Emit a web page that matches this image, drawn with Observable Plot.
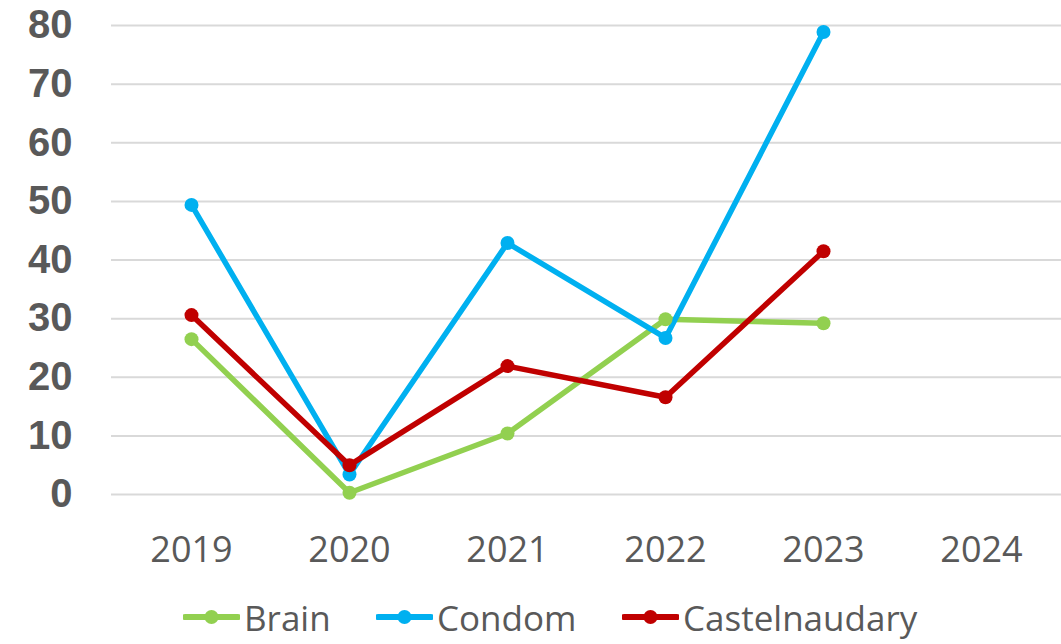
<!DOCTYPE html>
<html>
<head>
<meta charset="utf-8">
<script src="https://cdn.jsdelivr.net/npm/d3@7"></script>
<script src="https://cdn.jsdelivr.net/npm/@observablehq/plot@0.6"></script>
<style>
  body { margin: 0; background: #fff; }
  #chart svg { display: block; }
  #legend { position: relative; height: 64px; font-family: "Open Sans", sans-serif; font-size: 35px; color: #595959; }
  .item { position: absolute; top: 12px; display: flex; align-items: center; height: 50px; }
  .item span { margin-left: 4px; }
</style>
</head>
<body>
<div id="chart"></div>
<div id="legend"></div>
<script>
const years = ["2019", "2020", "2021", "2022", "2023", "2024"];
const seriesNames = ["Brain", "Condom", "Castelnaudary"];
const colors = ["#92D050", "#00B0F0", "#C00000"];
const brain = [26.5, 0.3, 10.4, 29.9, 29.2];
const condom = [49.4, 3.4, 42.9, 26.7, 78.9];
const castelnaudary = [30.6, 5.0, 21.9, 16.6, 41.5];
const yTicks = [0, 10, 20, 30, 40, 50, 60, 70, 80];

const seriesValues = [brain, condom, castelnaudary];
const data = [];
seriesNames.forEach((name, i) => {
  seriesValues[i].forEach((v, j) => data.push({ series: name, year: years[j], value: v }));
});

const plot = Plot.plot({
  width: 1061,
  height: 580,
  marginLeft: 111,
  marginRight: 0,
  marginTop: 25,
  marginBottom: 86,
  x: { type: "point", domain: years, padding: 0.5, label: null },
  y: { domain: [0, 80], label: null },
  color: { domain: seriesNames, range: colors },
  marks: [
    Plot.ruleY(yTicks, { stroke: "#D9D9D9", strokeWidth: 2 }),
    Plot.axisY({ ticks: yTicks, tickSize: 0, tickPadding: 39, fontSize: 40, fontWeight: "bold", fill: "#595959", fontFamily: "Liberation Sans, Arial, sans-serif", label: null }),
    Plot.axisX({ tickSize: 0, tickPadding: 42, fontSize: 36, fill: "#595959", fontFamily: "Open Sans, sans-serif", label: null }),
    Plot.line(data, { x: "year", y: "value", z: "series", stroke: "series", strokeWidth: 5.5 }),
    Plot.dot(data, { x: "year", y: "value", fill: "series", r: 7 })
  ]
});
document.getElementById("chart").appendChild(plot);

const legendLeft = [183, 376, 622];
const legend = document.getElementById("legend");
seriesNames.forEach((name, i) => {
  const item = document.createElement("div");
  item.className = "item";
  item.style.left = legendLeft[i] + "px";
  item.innerHTML = `<svg width="57" height="20"><line x1="2" y1="10" x2="55" y2="10" stroke="${colors[i]}" stroke-width="6" stroke-linecap="round"/><circle cx="28.5" cy="10" r="7" fill="${colors[i]}"/></svg><span>${name}</span>`;
  legend.appendChild(item);
});
</script>
</body>
</html>
